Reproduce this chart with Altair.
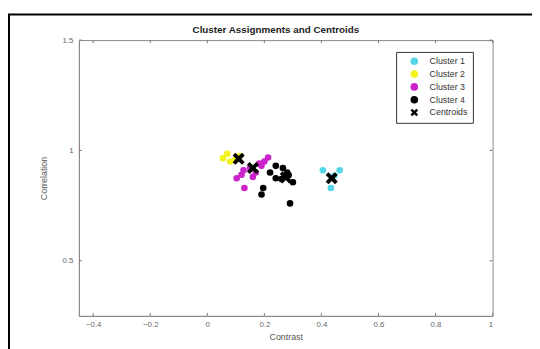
import altair as alt
import pandas as pd

# Data
c1_x = [0.405, 0.464, 0.433, 0.445]
c1_y = [0.910, 0.910, 0.830, 0.885]
c2_x = [0.055, 0.070, 0.080, 0.115, 0.100]
c2_y = [0.965, 0.985, 0.950, 0.975, 0.960]
c3_x = [0.213, 0.182, 0.127, 0.103, 0.130, 0.160, 0.200, 0.150, 0.170, 0.190, 0.120]
c3_y = [0.968, 0.940, 0.910, 0.874, 0.830, 0.880, 0.950, 0.920, 0.900, 0.930, 0.890]
c4_x = [0.240, 0.265, 0.285, 0.300, 0.240, 0.196, 0.190, 0.290, 0.260, 0.280, 0.220]
c4_y = [0.930, 0.920, 0.887, 0.856, 0.874, 0.830, 0.800, 0.760, 0.870, 0.900, 0.900]
cent_x = [0.436, 0.110, 0.160, 0.275]
cent_y = [0.874, 0.962, 0.920, 0.878]

groups = ["Cluster 1", "Cluster 2", "Cluster 3", "Cluster 4", "Centroids"]
colors = ["#55d6e8", "#f2f21c", "#cc22cc", "#000000", "#000000"]
x_ticks = [-0.4, -0.2, 0, 0.2, 0.4, 0.6, 0.8, 1]
y_ticks = [0.5, 1, 1.5]
title_text = "Cluster Assignments and Centroids"

rows = []
for g, xs, ys in [("Cluster 1", c1_x, c1_y), ("Cluster 2", c2_x, c2_y),
                  ("Cluster 3", c3_x, c3_y), ("Cluster 4", c4_x, c4_y)]:
    for a, b in zip(xs, ys):
        rows.append({"Contrast": a, "Correlation": b, "group": g})
df = pd.DataFrame(rows)
cdf = pd.DataFrame({"Contrast": cent_x, "Correlation": cent_y, "group": "Centroids"})

W, H = 420, 280
XDOM = [-0.45, 1.0]
YDOM = [0.25, 1.5]
xpath = "M-1,-0.55L-0.55,-1L0,-0.45L0.55,-1L1,-0.55L0.45,0L1,0.55L0.55,1L0,0.45L-0.55,1L-1,0.55L-0.45,0Z"

xscale = alt.Scale(domain=XDOM, nice=False, zero=False)
yscale = alt.Scale(domain=YDOM, nice=False, zero=False)

leg = alt.Legend(title=None, orient="none", legendX=322, legendY=12,
                 strokeColor="#333", fillColor="white", padding=5,
                 symbolOffset=9, labelFontSize=9, labelColor="#333",
                 rowPadding=3, symbolStrokeWidth=0, labelOffset=11, symbolSize=60)

xenc = alt.X("Contrast:Q", scale=xscale, title="Contrast",
             axis=alt.Axis(values=x_ticks, format="~g", tickSize=0, grid=False,
                           labelPadding=5, titlePadding=4))
yenc = alt.Y("Correlation:Q", scale=yscale, title="Correlation",
             axis=alt.Axis(values=y_ticks, format="~g", tickSize=0, grid=False,
                           labelPadding=6, titlePadding=14))
cenc = alt.Color("group:N", scale=alt.Scale(domain=groups, range=colors), legend=leg)
senc = alt.Shape("group:N", scale=alt.Scale(domain=groups,
                 range=["circle", "circle", "circle", "circle", xpath]), legend=leg)

points = alt.Chart(df).mark_point(filled=True, opacity=1, size=45).encode(
    x=xenc, y=yenc, color=cenc, shape=senc)
cents = alt.Chart(cdf).mark_point(filled=True, opacity=1, size=150).encode(
    x=xenc, y=yenc, color=cenc, shape=senc)

xt = pd.DataFrame({"v": x_ticks})
yt = pd.DataFrame({"v": y_ticks})
tick_style = dict(color="#777", strokeWidth=1)
xb = alt.Chart(xt).mark_rule(**tick_style).encode(x=alt.X("v:Q", scale=xscale), y=alt.value(H), y2=alt.value(H - 3))
xtp = alt.Chart(xt).mark_rule(**tick_style).encode(x=alt.X("v:Q", scale=xscale), y=alt.value(0), y2=alt.value(3))
yl = alt.Chart(yt).mark_rule(**tick_style).encode(y=alt.Y("v:Q", scale=yscale), x=alt.value(0), x2=alt.value(3))
yr = alt.Chart(yt).mark_rule(**tick_style).encode(y=alt.Y("v:Q", scale=yscale), x=alt.value(W), x2=alt.value(W - 3))

frame_df = pd.DataFrame({"k": [0]})
frame_left = alt.Chart(frame_df).mark_rule(color="black", strokeWidth=2).encode(
    x=alt.value(-71), y=alt.value(-26), y2=alt.value(330))
frame_top = alt.Chart(frame_df).mark_rule(color="black", strokeWidth=2).encode(
    x=alt.value(-72), x2=alt.value(470), y=alt.value(-26))

title_df = pd.DataFrame({"t": [title_text]})
title = alt.Chart(title_df).mark_text(fontSize=10, fontWeight="bold", color="#222",
                                      font="Liberation Sans", baseline="bottom",
                                      align="center").encode(
    text="t:N", x=alt.value(200), y=alt.value(-5))

chart = alt.layer(frame_left, frame_top, xb, xtp, yl, yr, points, cents, title).properties(
    width=W, height=H,
    autosize=alt.AutoSizeParams(type="none"),
    padding={"left": 72, "top": 30, "right": 40, "bottom": 31},
).configure_view(stroke="#888", strokeWidth=1).configure_axis(
    domainColor="#888", labelColor="#666", labelFontSize=8, titleFontSize=9,
    titleColor="#555", titleFontWeight="normal", labelFont="Liberation Sans",
    titleFont="Liberation Sans",
).configure_legend(labelFont="Liberation Sans")

chart.save("out.html", embed_options={"renderer": "svg", "actions": False})
